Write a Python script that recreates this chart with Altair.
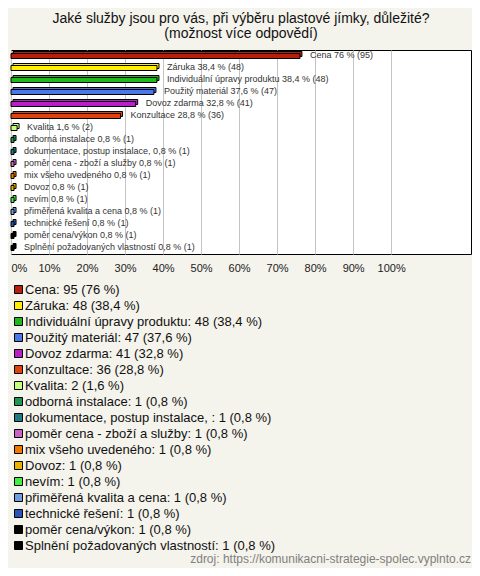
import altair as alt
import pandas as pd

categories = ["Cena", "Záruka", "Individuální úpravy produktu", "Použitý materiál",
              "Dovoz zdarma", "Konzultace", "Kvalita", "odborná instalace",
              "dokumentace, postup instalace, ", "poměr cena - zboží a služby",
              "mix všeho uvedeného", "Dovoz", "nevím", "přiměřená kvalita a cena",
              "technické řešení", "poměr cena/výkon", "Splnění požadovaných vlastností"]
counts = [95, 48, 48, 47, 41, 36, 2, 1, 1, 1, 1, 1, 1, 1, 1, 1, 1]
percents = [76, 38.4, 38.4, 37.6, 32.8, 28.8, 1.6, 0.8, 0.8, 0.8, 0.8, 0.8, 0.8, 0.8, 0.8, 0.8, 0.8]
colors = ["#b81e0c", "#ffee00", "#1fb81f", "#4a78e8", "#b81fc8", "#e0420e", "#c8ff7a",
          "#1f9655", "#1f7a88", "#c864c8", "#ee7a00", "#e8b400", "#44ee44", "#6e9ee0",
          "#2a55b8", "#000000", "#000000"]
ticks = [0, 10, 20, 30, 40, 50, 60, 70, 80, 90, 100]


def fmt(p):
    return f"{p:g}".replace(".", ",")


legend_labels = [f"{c}: {n} ({fmt(p)} %)" for c, n, p in zip(categories, counts, percents)]
bar_labels = [f"{c} {fmt(p)} % ({n})" for c, n, p in zip(categories, counts, percents)]
bar_labels[8] = f"dokumentace, postup instalace,  {fmt(percents[8])} % ({counts[8]})"

df = pd.DataFrame({"cat": categories, "pct": percents, "legend": legend_labels, "label": bar_labels})

FONT = "Liberation Sans"

y_enc = alt.Y("cat:N", sort=categories, axis=None,
              scale=alt.Scale(paddingInner=0, paddingOuter=0))
x_enc = alt.X("pct:Q", scale=alt.Scale(domain=[0, 121], nice=False, zero=True),
              axis=alt.Axis(values=ticks, labelExpr="datum.value + '%'", grid=True,
                            gridColor="#c4c4c4", gridWidth=1, domain=False, ticks=False,
                            labelFontSize=11, labelFont=FONT, labelColor="#222",
                            labelPadding=8, labelFlush=True, title=None))
color_enc = alt.Color("legend:N", sort=legend_labels,
                      scale=alt.Scale(domain=legend_labels, range=colors),
                      legend=alt.Legend(orient="none", legendX=1, legendY=233, title=None,
                                        symbolType="square", symbolSize=64,
                                        symbolStrokeColor="black", symbolStrokeWidth=1,
                                        labelFontSize=13, labelFont=FONT, labelColor="#111",
                                        labelLimit=460, rowPadding=2, labelOffset=0,
                                        padding=0, columns=1))

base = alt.Chart(df)

back = base.mark_bar(size=5, xOffset=2, x2Offset=2, yOffset=-2, stroke="black",
                     strokeWidth=1).encode(x=x_enc, y=y_enc, color=color_enc)
front = base.mark_bar(size=5, stroke="black", strokeWidth=1).encode(
    x=x_enc, y=y_enc, color=color_enc)
labels = base.mark_text(align="left", baseline="middle", dx=10, dy=-1, fontSize=9,
                        font=FONT, color="#333").encode(x=x_enc, y=y_enc, text="label:N")

src = alt.Chart(pd.DataFrame({"t": ["zdroj: https://komunikacni-strategie-spolec.vyplnto.cz"]})).mark_text(
    align="right", baseline="middle", fontSize=12, font=FONT, color="#808080"
).encode(x=alt.value(460), y=alt.value(509), text="t:N")

chart = alt.layer(back, front, labels, src).properties(
    width=460, height=204,
    padding={"left": 3, "top": 42, "right": 1, "bottom": 314},
    autosize=alt.AutoSizeParams(type="none"),
    title=alt.TitleParams(
        text=["Jaké služby jsou pro vás, při výběru plastové jímky, důležité?",
              "(možnost více odpovědí)"],
        fontSize=14, fontWeight="normal", font=FONT, color="#111",
        anchor="middle", offset=9, lineHeight=15),
    background="#f4f3ec",
).configure_view(stroke="black", strokeWidth=1, fill="white")

chart.save("out.html", embed_options={"renderer": "svg", "actions": False})
